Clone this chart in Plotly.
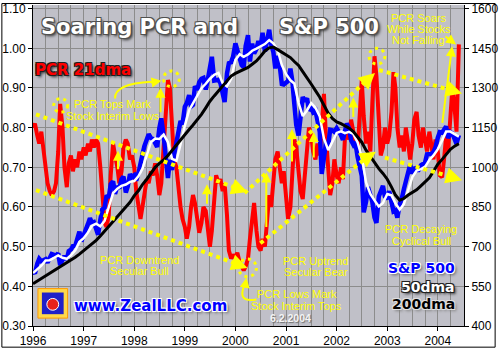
import plotly.graph_objects as go
import pandas as pd

# ---------------- data (semi-monthly: 1st & 15th, Jan 1996 - Jun 2004) ----------------
sp500 = [
    606, 599, 636, 654, 645, 651, 653, 640, 654, 672, 669, 666, 675, 630, 650, 665, 651, 683, 689, 702, 703, 737, 757, 720,
    741, 768, 786, 808, 791, 793, 757, 745, 801, 841, 848, 894, 885, 936, 947, 900, 929, 920, 955, 965, 905, 928, 974, 963,
    970, 950, 980, 1024, 1049, 1080, 1108, 1125, 1111, 1108, 1091, 1077, 1148, 1185, 1120, 1062, 960, 1029, 990, 1047, 1098, 1125, 1175, 1162,
    1229, 1243, 1273, 1230, 1236, 1307, 1293, 1322, 1335, 1338, 1294, 1330, 1380, 1418, 1328, 1330, 1331, 1318, 1282, 1247, 1354, 1394, 1397, 1418,
    1469, 1445, 1409, 1387, 1379, 1458, 1500, 1400, 1468, 1430, 1448, 1478, 1455, 1509, 1438, 1484, 1520, 1465, 1436, 1374, 1421, 1389, 1315, 1313,
    1320, 1326, 1373, 1326, 1241, 1160, 1120, 1183, 1266, 1249, 1261, 1215, 1224, 1208, 1215, 1178, 1134, 975, 1045, 1089, 1084, 1142, 1140, 1134,
    1148, 1138, 1122, 1104, 1131, 1166, 1147, 1102, 1086, 1097, 1040, 1007, 968, 830, 870, 925, 900, 870, 810, 790, 890, 905, 930, 890,
    880, 910, 860, 834, 838, 810, 860, 880, 917, 946, 964, 1010, 976, 1000, 990, 990, 1008, 1015, 1018, 1049, 1051, 1050, 1058, 1075,
    1112, 1133, 1131, 1145, 1155, 1110, 1133, 1128, 1107, 1089, 1122,
]

pcr_21dma = [
    0.80, 0.81, 0.78, 0.76, 0.79, 0.75, 0.70, 0.66, 0.64, 0.63, 0.64, 0.66, 0.74, 0.86, 0.80, 0.70, 0.65, 0.71, 0.73, 0.69, 0.72, 0.70, 0.74, 0.72,
    0.75, 0.73, 0.76, 0.74, 0.77, 0.75, 0.77, 0.76, 0.70, 0.62, 0.56, 0.55, 0.58, 0.68, 0.76, 0.73, 0.70, 0.66, 0.69, 0.75, 0.77, 0.76, 0.72, 0.73,
    0.70, 0.64, 0.60, 0.57, 0.60, 0.63, 0.67, 0.66, 0.69, 0.68, 0.71, 0.68, 0.63, 0.66, 0.75, 0.86, 0.92, 0.90, 0.78, 0.72, 0.70, 0.64, 0.60, 0.57,
    0.55, 0.52, 0.55, 0.60, 0.63, 0.61, 0.57, 0.535, 0.56, 0.60, 0.59, 0.55, 0.50, 0.54, 0.64, 0.68, 0.66, 0.67, 0.64, 0.66, 0.58, 0.49, 0.47, 0.48,
    0.47, 0.485, 0.46, 0.45, 0.44, 0.45, 0.47, 0.52, 0.58, 0.61, 0.54, 0.50, 0.49, 0.52, 0.50, 0.56, 0.63, 0.60, 0.68, 0.72, 0.74, 0.70, 0.66, 0.69,
    0.62, 0.57, 0.60, 0.68, 0.77, 0.75, 0.70, 0.64, 0.62, 0.68, 0.74, 0.80, 0.78, 0.74, 0.72, 0.76, 0.73, 0.82, 0.885, 0.78, 0.68, 0.63, 0.66, 0.72,
    0.68, 0.66, 0.70, 0.67, 0.77, 0.80, 0.77, 0.82, 0.79, 0.76, 0.74, 0.84, 0.92, 0.83, 0.76, 0.79, 0.74, 0.86, 0.98, 0.93, 0.80, 0.73, 0.75, 0.80,
    0.76, 0.78, 0.84, 0.94, 0.90, 0.80, 0.75, 0.78, 0.74, 0.80, 0.76, 0.72, 0.76, 0.82, 0.84, 0.78, 0.75, 0.80, 0.77, 0.74, 0.79, 0.76, 0.72, 0.77,
    0.74, 0.68, 0.675, 0.72, 0.78, 0.74, 0.82, 0.90, 0.85, 0.79, 1.01,
]

# monthly (1st of month, Jan 1996 - Jun 2004)
sp500_50dma = [
    600, 613, 628, 648, 649, 658, 667, 658, 654, 668, 686, 718,
    732, 754, 779, 787, 777, 798, 854, 902, 919, 930, 935, 945,
    948, 967, 995, 1048, 1095, 1109, 1107, 1124, 1095, 1032, 1025, 1087,
    1158, 1216, 1242, 1268, 1299, 1316, 1335, 1350, 1357, 1318, 1306, 1335,
    1406, 1428, 1418, 1427, 1441, 1449, 1456, 1466, 1481, 1469, 1443, 1387,
    1352, 1329, 1317, 1244, 1194, 1216, 1243, 1225, 1192, 1109, 1065, 1100,
    1130, 1136, 1129, 1134, 1126, 1094, 1040, 943, 899, 875, 852, 865,
    899, 894, 864, 840, 861, 913, 963, 988, 993, 1002, 1028, 1045,
    1069, 1102, 1135, 1135, 1127, 1116,
]

sp500_200dma = [
    560, 570, 580, 590, 600, 610, 620, 630, 640, 650, 660, 672,
    685, 697, 710, 724, 740, 758, 775, 793, 812, 832, 850, 868,
    893, 912, 935, 955, 975, 1000, 1015, 1028, 1045, 1065, 1085, 1105,
    1125, 1143, 1160, 1180, 1200, 1225, 1250, 1270, 1290, 1310, 1330, 1345,
    1355, 1362, 1370, 1378, 1390, 1402, 1420, 1440, 1452, 1455, 1445, 1435,
    1428, 1415, 1400, 1385, 1362, 1340, 1315, 1290, 1265, 1235, 1205, 1185,
    1172, 1165, 1158, 1148, 1135, 1115, 1095, 1065, 1040, 1018, 995, 977,
    955, 925, 895, 876, 882, 895, 905, 915, 930, 945, 960, 985,
    1012, 1030, 1050, 1068, 1080, 1089,
]

semi_dates = pd.date_range("1996-01-01", periods=len(sp500), freq="SMS")
month_dates = pd.date_range("1996-01-01", periods=len(sp500_50dma), freq="MS")

# ---------------- geometry helpers (pixel -> paper) ----------------
L, R, T, B = 32, 468, 2, 328
def px(x):
    return (x - L) / (R - L)
def py(y):
    return (B - y) / (B - T)

YEL = "#FFFF00"
fig = go.Figure()
fig.add_trace(go.Scatter(x=semi_dates, y=pcr_21dma, mode="lines", yaxis="y",
                         line=dict(color="#FF0000", width=4), name="PCR 21dma"))
fig.add_trace(go.Scatter(x=semi_dates, y=sp500, mode="lines", yaxis="y2",
                         line=dict(color="#0000FF", width=4.5), name="S&P 500"))
fig.add_trace(go.Scatter(x=month_dates, y=sp500_50dma, mode="lines", yaxis="y2",
                         line=dict(color="#FFFFFF", width=2.5), name="50dma"))
fig.add_trace(go.Scatter(x=month_dates, y=sp500_200dma, mode="lines", yaxis="y2",
                         line=dict(color="#000000", width=3), name="200dma"))

shapes = []
# dotted trend channels
trend_lines = [((35, 113), (238, 188)), ((35, 190), (238, 265)),
               ((246, 193), (368, 80)), ((262, 244), (368, 158)),
               ((382, 68), (453, 88)), ((388, 157), (453, 176))]
for (x0, y0), (x1, y1) in trend_lines:
    shapes.append(dict(type="line", xref="paper", yref="paper",
                       x0=px(x0), y0=py(y0), x1=px(x1), y1=py(y1),
                       line=dict(color=YEL, width=4, dash="4px,4px")))
# dotted circles round extremes
for cx, cy, r in [(60, 104, 7), (172, 77, 8), (380, 54, 8), (249, 269, 9)]:
    shapes.append(dict(type="circle", xref="paper", yref="paper",
                       x0=px(cx - r), x1=px(cx + r), y0=py(cy + r), y1=py(cy - r),
                       line=dict(color=YEL, width=3, dash="3px,4px")))
# curved arrow shafts
def ppath(pts):
    (ax_, ay_), (bx, by), (cx_, cy_) = pts
    return "M %f,%f Q %f,%f %f,%f" % (px(ax_), py(ay_), px(bx), py(by), px(cx_), py(cy_))
for pts in [((115, 97), (114, 82), (152, 80)), ((258, 301), (238, 305), (246, 286))]:
    shapes.append(dict(type="path", xref="paper", yref="paper", path=ppath(pts),
                       line=dict(color=YEL, width=2)))
# logo
shapes.append(dict(type="rect", xref="paper", yref="paper", x0=px(37), x1=px(67), y0=py(320), y1=py(290),
                   fillcolor="#FFD84A", line=dict(color="#FF9A00", width=1)))
shapes.append(dict(type="rect", xref="paper", yref="paper", x0=px(41), x1=px(63), y0=py(316), y1=py(294),
                   fillcolor="#2020C8", line=dict(width=0)))
shapes.append(dict(type="circle", xref="paper", yref="paper", x0=px(46), x1=px(58), y0=py(312), y1=py(300),
                   fillcolor="#E8201C", line=dict(color="#FFFFFF", width=1)))
# outer border
shapes.append(dict(type="rect", xref="paper", yref="paper", x0=px(0.5), x1=px(499.5), y0=py(349.5), y1=py(0.5),
                   line=dict(color="black", width=1), layer="above"))

annotations = []
def arrow(tail, head, width=2, size=1.0):
    annotations.append(dict(xref="paper", yref="paper", x=px(head[0]), y=py(head[1]),
                            ax=tail[0] - head[0], ay=tail[1] - head[1], text="",
                            showarrow=True, arrowhead=2, arrowsize=size, arrowwidth=width,
                            arrowcolor=YEL))
# heads of dotted channels
for tail, head in [((238, 188), (249, 192)), ((238, 265), (249, 269)), ((368, 80), (378, 71)),
                   ((368, 158), (379, 151)), ((453, 88), (466, 92)), ((453, 176), (466, 180))]:
    arrow(tail, head, width=2.5, size=1.3)
# solid arrows
for tail, head in [((118, 170), (118, 150)), ((208, 205), (208, 184)), ((161, 112), (161, 86)),
                   ((268, 228), (268, 172)), ((294, 162), (294, 128)), ((316, 158), (316, 131)),
                   ((356, 117), (356, 96)), ((446, 122), (456, 44)), ((448, 33), (460, 42)),
                   ((150, 81), (162, 79)), ((246, 290), (248, 279))]:
    arrow(tail, head)

def label(text, x, y, size, color, family="Liberation Sans", weight="normal", shadow="none", xanchor="center"):
    annotations.append(dict(xref="paper", yref="paper", x=px(x), y=py(y), text=text, showarrow=False,
                            xanchor=xanchor, yanchor="middle",
                            font=dict(family=family, size=size, color=color, weight=weight, shadow=shadow)))

dark_outline = "-1px -1px 0 #505050, 1px -1px 0 #505050, -1px 1px 0 #505050, 1px 1px 0 #505050, 2px 2px 3px #303030"
white_outline = "-1px -1px 0 #FFFFFF, 1px -1px 0 #FFFFFF, -1px 1px 0 #FFFFFF, 1px 1px 0 #FFFFFF, 2px 2px 3px #606060"
black_outline = "-1px -1px 0 #202020, 1px -1px 0 #202020, -1px 1px 0 #202020, 1px 1px 0 #202020, 2px 2px 3px #202020"
grey_outline = "-1px -1px 0 #E0E0E0, 1px -1px 0 #E0E0E0, -1px 1px 0 #E0E0E0, 1px 1px 0 #E0E0E0, 2px 2px 3px #808080"

label("Soaring PCR and", 140, 24, 21, "#FFFFFF", "DejaVu Sans", "bold", dark_outline)
label("S&amp;P 500", 331, 24, 21, "#FFFFFF", "DejaVu Sans", "bold", dark_outline)
label("PCR 21dma", 83, 68, 15, "#FF0000", "DejaVu Sans", "bold", black_outline)

for text, x, y in [("PCR Tops Mark", 112, 103), ("Stock Interim Lows", 112, 115),
                   ("PCR Downtrend", 140, 261), ("Secular Bull", 140, 272.5),
                   ("PCR Uptrend", 318, 262), ("Secular Bear", 318, 273),
                   ("PCR Lows Mark", 299, 296), ("Stock Interim Tops", 299, 308),
                   ("PCR Decaying", 425, 229.5), ("Cyclical Bull", 425, 242),
                   ("PCR Soars", 422, 15), ("While Stocks", 422, 26.5), ("Not Falling", 422, 38)]:
    label(text, x, y, 11, YEL)
label("6.2.2004", 292.5, 320, 10.5, "#F4F4F4", "Liberation Sans", "bold", "1px 1px 1px #707070")

label("S&amp;P 500", 461, 269, 14, "#0000FF", "DejaVu Sans", "bold", white_outline, "right")
label("50dma", 461, 288, 14, "#FFFFFF", "DejaVu Sans", "bold", black_outline, "right")
label("200dma", 461, 306, 14, "#000000", "DejaVu Sans", "bold", grey_outline, "right")
label("www.ZealLLC.com", 151, 308, 15, "#0000FF", "DejaVu Sans", "bold", white_outline)

grid = "#8C8C8C"
tickfont = dict(family="Liberation Sans", size=12, color="black")
fig.update_layout(
    width=500, height=350,
    margin=dict(l=L, r=500 - R, t=T, b=350 - B, pad=0),
    paper_bgcolor="#FFFFFF", plot_bgcolor="#C0C0C8",
    showlegend=False,
    xaxis=dict(type="date", range=["1996-01-01", "2004-07-08"], tickmode="linear",
               tick0="1996-01-01", dtick="M12", tickformat="%Y", ticks="outside", ticklen=4,
               tickcolor="black", showline=True, linecolor="black", linewidth=1,
               showgrid=True, gridcolor=grid, gridwidth=1, zeroline=False, tickfont=tickfont,
               ticklabeloverflow="allow",
               minor=dict(dtick="M3", tick0="1996-01-01", showgrid=True, gridcolor=grid, gridwidth=1)),
    yaxis=dict(range=[0.30, 1.1092], tickmode="linear", tick0=0.3, dtick=0.1, tickformat=".2f",
               ticks="outside", ticklen=4, tickcolor="black", showline=True, linecolor="black",
               linewidth=1, showgrid=True, gridcolor=grid, gridwidth=1, zeroline=False, tickfont=tickfont,
               ticklabeloverflow="allow"),
    yaxis2=dict(overlaying="y", side="right", range=[400, 1613.8], tickmode="linear", tick0=400,
                dtick=150, ticks="outside", ticklen=4, tickcolor="black", showline=True,
                linecolor="black", linewidth=1, showgrid=False, zeroline=False, tickfont=tickfont,
                ticklabeloverflow="allow"),
    shapes=shapes, annotations=annotations,
)

fig.write_html("out.html")
